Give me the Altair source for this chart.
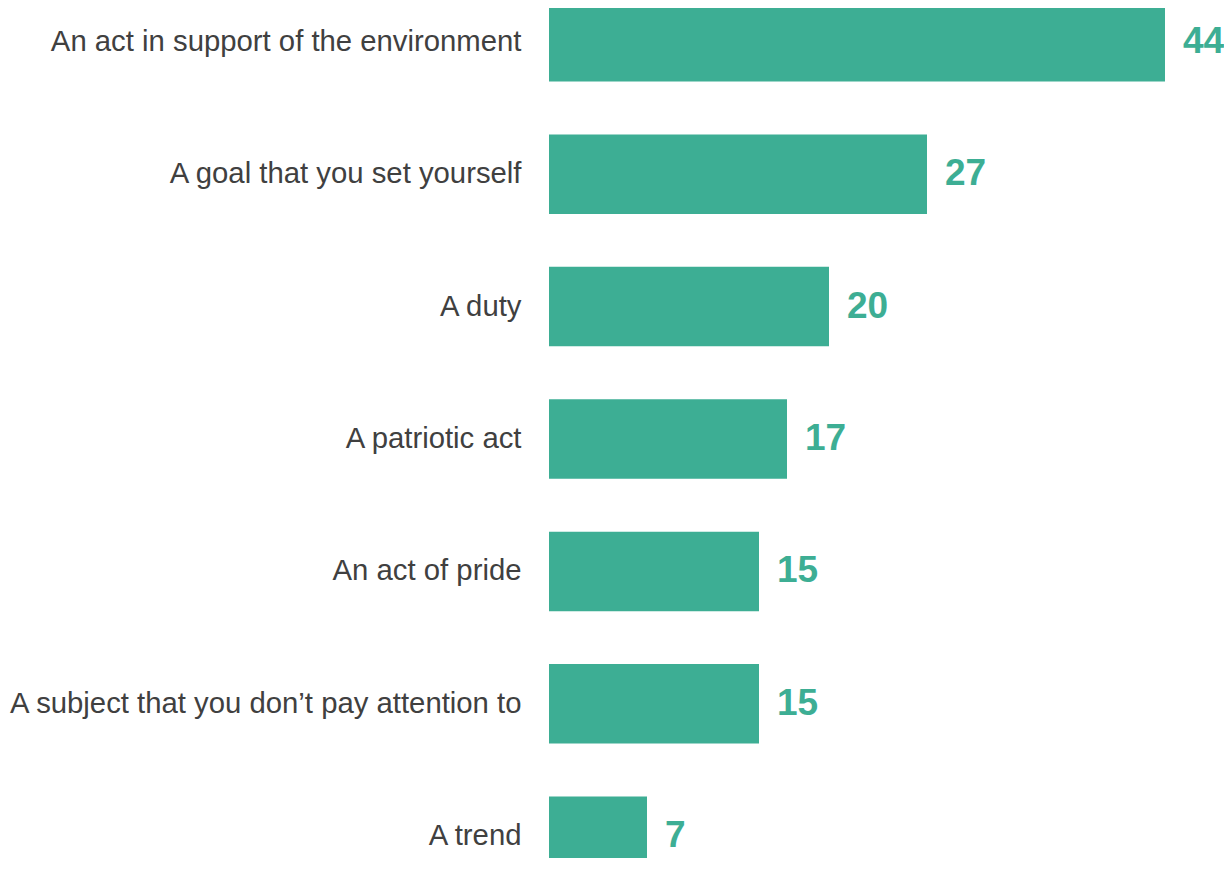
import altair as alt
import pandas as pd

categories = [
    "An act in support of the environment",
    "A goal that you set yourself",
    "A duty",
    "A patriotic act",
    "An act of pride",
    "A subject that you don\u2019t pay attention to",
    "A trend",
]
values = [44, 27, 20, 17, 15, 15, 7]

df = pd.DataFrame({"category": categories, "value": values})

TEAL = "#3DAE94"
FONT = "Liberation Sans"

y_enc = alt.Y(
    "category:N",
    sort=None,
    scale=alt.Scale(range=[-6, 868], paddingInner=0.4, paddingOuter=0),
    axis=alt.Axis(
        title=None,
        ticks=False,
        domain=False,
        grid=False,
        labelFont=FONT,
        labelFontSize=29.3,
        labelColor="#404040",
        labelPadding=28,
        labelLimit=700,
    ),
)
x_enc = alt.X(
    "value:Q",
    scale=alt.Scale(domain=[0, 44], nice=False),
    axis=None,
)

bars = alt.Chart(df).mark_bar(color=TEAL).encode(y=y_enc, x=x_enc)
labels = alt.Chart(df).mark_text(
    align="left",
    baseline="middle",
    dx=18,
    font=FONT,
    fontSize=37,
    fontWeight="bold",
    color=TEAL,
).encode(y=y_enc, x=x_enc, text="value:Q")

chart = (
    alt.layer(bars, labels)
    .properties(
        width=616,
        height=850,
        autosize=alt.AutoSizeParams(type="none"),
        padding={"left": 541, "right": 59, "top": 0, "bottom": 0},
    )
    .configure_view(stroke=None)
)

chart.save("out.html", embed_options={"renderer": "svg", "actions": False})
